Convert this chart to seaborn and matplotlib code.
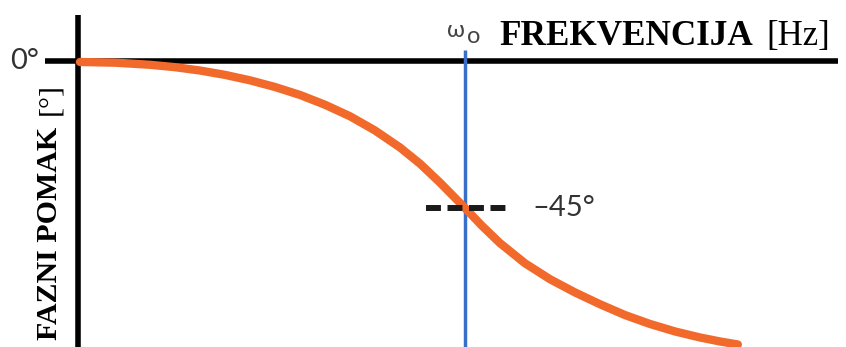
import matplotlib
matplotlib.use('Agg')

import matplotlib.pyplot as plt
import seaborn as sns
import pandas as pd

# phase response (frequency normalised to w0 = 1, phase in degrees)
freq = [0.005, 0.096, 0.186, 0.251, 0.315, 0.380, 0.444, 0.509, 0.574, 0.638,
        0.703, 0.767, 0.832, 0.884, 0.935, 1.0, 1.044, 1.090, 1.155, 1.220,
        1.284, 1.349, 1.413, 1.478, 1.543, 1.607, 1.659, 1.705]
phase = [-0.3, -0.52, -1.16, -1.90, -2.91, -4.25, -5.91, -7.96, -10.41, -13.38,
         -16.93, -21.24, -26.48, -31.47, -37.19, -45.0, -50.47, -55.71, -61.92, -66.82,
         -70.83, -74.47, -77.75, -80.50, -82.80, -84.63, -85.86, -86.78]
w0 = 1.0
ref_phase = -45.0

df = pd.DataFrame({'freq': freq, 'phase': phase})

sns.set_style('white')
plt.rcParams['font.family'] = ['Lato', 'DejaVu Sans']

fig = plt.figure(figsize=(8.46, 3.47), dpi=100)
ax = fig.add_axes([0, 0, 1, 1])
ax.set_xlim(-0.2016, 1.9845)
ax.set_ylim(-87.55, 18.67)
ax.axis('off')

# axes drawn by hand, like the original sketch
ax.plot([0, 0], [-90, 14.1], color='black', lw=4, solid_capstyle='butt', zorder=2)
ax.plot([-0.085, 1.963], [0, 0], color='black', lw=4, solid_capstyle='butt', zorder=2)

# w0 marker
ax.plot([w0, w0], [-90, 3.4], color='#3a6fc9', lw=2.5, solid_capstyle='butt', zorder=3)

# phase curve
sns.lineplot(data=df, x='freq', y='phase', color='#f26a2b', lw=6, ax=ax,
             zorder=4, solid_capstyle='round', solid_joinstyle='round')

# -45 degree marker
ax.plot([0.899, 1.121], [ref_phase, ref_phase], color='#1a1a1a', lw=4.3,
        dashes=(2.5, 1.1), zorder=5)

ax.text(-0.175, 0, '0°', fontsize=21, color='#333333', ha='left', va='center')
ax.text(1.173, ref_phase, '–45°', fontsize=21, color='#333333', ha='left', va='center')

ax.text(0.953, 7.3, 'ω', fontsize=17, color='#444444', ha='left', va='baseline',
        family=['Lato', 'DejaVu Sans'])
ax.text(1.006, 5.5, 'o', fontsize=17, color='#444444', ha='left', va='baseline')

ax.text(1.09, 4.9, 'FREKVENCIJA', fontsize=25.3, fontweight='bold', color='black',
        family='Liberation Serif', ha='left', va='baseline')
ax.text(1.78, 4.9, '[Hz]', fontsize=25, color='black',
        family='Liberation Serif', ha='left', va='baseline')

ax.text(-0.054, -85.4, 'FAZNI POMAK', fontsize=21.5, fontweight='bold', color='black',
        family='Liberation Serif', rotation=90, rotation_mode='anchor',
        ha='left', va='baseline')
ax.text(-0.054, -16.6, '[°]', fontsize=21.5, color='black',
        family='Liberation Serif', rotation=90, rotation_mode='anchor',
        ha='left', va='baseline')

fig.savefig('out.png', dpi=100)
